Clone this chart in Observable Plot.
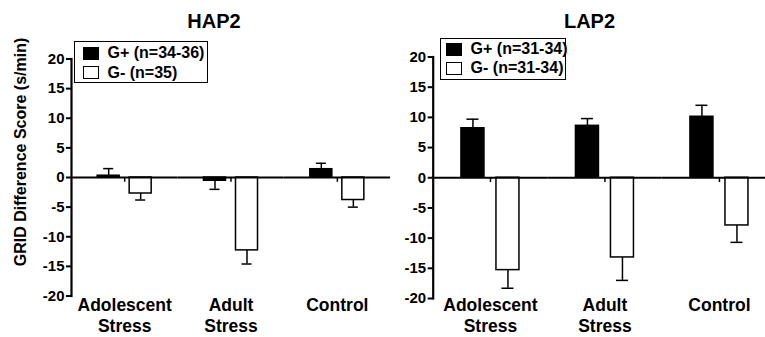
<!DOCTYPE html>
<html>
<head>
<meta charset="utf-8">
<script src="https://cdn.jsdelivr.net/npm/d3@7"></script>
<script src="https://cdn.jsdelivr.net/npm/@observablehq/plot@0.6"></script>
<style>
  html, body { margin: 0; padding: 0; background: #fff; overflow: hidden; }
  #wrap { position: relative; width: 765px; height: 337px; font-family: "Liberation Sans", Arial, sans-serif; color: #000; }
  #wrap svg { position: absolute; top: 0; overflow: visible; background: transparent; max-width: none; }
  .title { position: absolute; font-weight: bold; font-size: 20px; transform: translate(-50%, -50%); white-space: nowrap; }
  .ylabel { position: absolute; font-size: 16px; font-weight: bold; transform: translate(-50%, -50%) rotate(-90deg); white-space: nowrap; }
  .legend { position: absolute; border: 1.5px solid #000; box-sizing: border-box; background: #fff; font-size: 16px; font-weight: bold; white-space: nowrap; }
  .legend .row { position: absolute; display: flex; align-items: center; white-space: nowrap; }
  .legend .sw { border: 1.5px solid #000; box-sizing: border-box; width: 16px; height: 13px; flex: none; }
</style>
</head>
<body>
<div id="wrap"></div>
<script>
// ---------- data ----------
const categories = ["Adolescent Stress", "Adult Stress", "Control"];
const groups = ["G+", "G-"];
const yTicks = [-20, -15, -10, -5, 0, 5, 10, 15, 20];

const hap2Title = "HAP2";
const hap2Legend = ["G+ (n=34-36)", "G- (n=35)"];
const hap2Plus = [0.3, -0.55, 1.4];
const hap2PlusErr = [1.2, 1.45, 1.0];
const hap2Minus = [-2.7, -12.3, -3.8];
const hap2MinusErr = [1.1, 2.3, 1.2];

const lap2Title = "LAP2";
const lap2Legend = ["G+ (n=31-34)", "G- (n=31-34)"];
const lap2Plus = [8.2, 8.6, 10.1];
const lap2PlusErr = [1.5, 1.2, 1.9];
const lap2Minus = [-15.3, -13.2, -7.9];
const lap2MinusErr = [3.0, 3.8, 2.8];

const yLabel = "GRID Difference Score (s/min)";

// ---------- helpers ----------
function buildRows(plus, plusErr, minus, minusErr) {
  const rows = [];
  categories.forEach((c, i) => {
    rows.push({cat: c, group: groups[0], value: plus[i], err: plusErr[i]});
    rows.push({cat: c, group: groups[1], value: minus[i], err: minusErr[i]});
  });
  rows.forEach(r => { r.end = r.value + Math.sign(r.value) * r.err; });
  return rows;
}

function chart(rows, cfg) {
  return Plot.plot({
    width: cfg.width,
    height: 337,
    marginLeft: cfg.marginLeft,
    marginRight: cfg.marginRight,
    marginTop: cfg.marginTop,
    marginBottom: cfg.marginBottom,
    style: {fontFamily: '"Liberation Sans", Arial, sans-serif', fontSize: "15px", fontWeight: "bold", color: "#000", background: "transparent"},
    fx: {domain: categories, paddingInner: 0, paddingOuter: 0, round: false, axis: null, label: null},
    x: {domain: groups, paddingInner: cfg.xPadInner, paddingOuter: cfg.xPadOuter, round: false, axis: null, label: null},
    y: {domain: [-20, 20]},
    color: {domain: groups, range: ["#000", "#fff"]},
    marks: [
      Plot.axisY({ticks: yTicks, tickSize: 5, tickPadding: 2, tickFormat: d => `${d}`, label: null, strokeWidth: 2}),
      Plot.ruleX(rows, {fx: "cat", x: "group", y1: "value", y2: "end", strokeWidth: 1.5}),
      Plot.tickY(rows, {fx: "cat", x: "group", y: "end", strokeWidth: 1.5, insetLeft: cfg.capInset, insetRight: cfg.capInset}),
      Plot.barY(rows, {fx: "cat", x: "group", y: "value", fill: "group", stroke: "#000", strokeWidth: 1.5}),
      Plot.ruleY([0], {strokeWidth: 2}),
      Plot.ruleX(categories, {fx: d => d, x: null, y1: 0, y2: -0.8, strokeWidth: 1.5}),
      Plot.text(categories, {fx: d => d, text: d => d.replace(" ", "\n"), frameAnchor: "bottom", lineAnchor: "top", dy: cfg.labelDy, lineHeight: 1.2, fontSize: 17.5, fontWeight: "bold"}),
      // y-axis line: drawn once over the whole frame (not per facet), on top
      Plot.frame({anchor: "left", facet: "super", stroke: "#000", strokeWidth: 2.2})
    ]
  });
}

function legend(parent, labels, cfg) {
  const box = document.createElement("div");
  box.className = "legend";
  Object.assign(box.style, {left: cfg.left + "px", top: cfg.top + "px", width: cfg.width + "px", height: cfg.height + "px"});
  labels.forEach((lab, i) => {
    const row = document.createElement("div");
    row.className = "row";
    row.style.left = cfg.swLeft + "px";
    row.style.top = (cfg.rowTop + i * cfg.rowStep) + "px";
    row.style.height = "20px";
    const sw = document.createElement("div");
    sw.className = "sw";
    sw.style.background = i === 0 ? "#000" : "#fff";
    const tx = document.createElement("span");
    tx.textContent = lab;
    tx.style.marginLeft = cfg.gap + "px";
    row.appendChild(sw);
    row.appendChild(tx);
    box.appendChild(row);
  });
  parent.appendChild(box);
}

function addText(parent, cls, text, x, y) {
  const d = document.createElement("div");
  d.className = cls;
  d.textContent = text;
  d.style.left = x + "px";
  d.style.top = y + "px";
  parent.appendChild(d);
}

// ---------- render ----------
const wrap = document.getElementById("wrap");

const left = chart(buildRows(hap2Plus, hap2PlusErr, hap2Minus, hap2MinusErr), {
  width: 392, marginLeft: 71, marginRight: 2, marginTop: 58.5, marginBottom: 41.5,
  xPadInner: 0.3125, xPadOuter: 0.817, capInset: 6, labelDy: 0
});
left.style.left = "0px";
wrap.appendChild(left);

const right = chart(buildRows(lap2Plus, lap2PlusErr, lap2Minus, lap2MinusErr), {
  width: 398, marginLeft: 52.7, marginRight: 1.8, marginTop: 56.5, marginBottom: 39,
  xPadInner: 0.343, xPadOuter: 0.807, capInset: 5.5, labelDy: -2
});
right.style.left = "380px";
wrap.appendChild(right);

addText(wrap, "title", hap2Title, 214, 21);
addText(wrap, "title", lap2Title, 589.5, 20.5);
addText(wrap, "ylabel", yLabel, 21, 151.5);

legend(wrap, hap2Legend, {left: 74, top: 40.7, width: 134, height: 42, swLeft: 7.5, rowTop: 1.5, rowStep: 19.5, gap: 9});
legend(wrap, lap2Legend, {left: 440, top: 38.3, width: 126, height: 42, swLeft: 5.2, rowTop: 0, rowStep: 19, gap: 8.4});
</script>
</body>
</html>
